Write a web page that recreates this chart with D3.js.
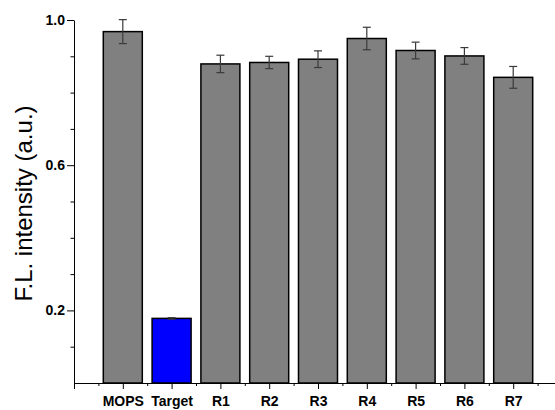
<!DOCTYPE html>
<html>
<head>
<meta charset="utf-8">
<script src="https://cdn.jsdelivr.net/npm/d3@7"></script>
<style>
  body { margin: 0; background: #fff; }
  svg text { font-family: Arial, "Liberation Sans", sans-serif; }
</style>
</head>
<body>
<div id="chart"></div>
<script>
// chart data
const categories = ['MOPS', 'Target', 'R1', 'R2', 'R3', 'R4', 'R5', 'R6', 'R7'];
const values = [0.968, 0.178, 0.879, 0.883, 0.892, 0.949, 0.916, 0.901, 0.842];
const errors = [0.033, 0.002, 0.024, 0.017, 0.023, 0.031, 0.023, 0.023, 0.030];
const barColors = ['#808080', '#0000ff', '#808080', '#808080', '#808080', '#808080', '#808080', '#808080', '#808080'];
const yMajorTicks = [0.2, 0.6, 1.0];
const yMinorTicks = [0.1, 0.3, 0.4, 0.5, 0.7, 0.8, 0.9];

const W = 555, H = 410;
const plotLeft = 74, plotTop = 20, plotBottom = 383;

const svg = d3.select('#chart').append('svg')
  .attr('width', W)
  .attr('height', H);

// x positions: categories sit at 1..9, axis starts at 0
const x = d3.scaleLinear()
  .domain([0, 10])
  .range([plotLeft, plotLeft + 488]);

const y = d3.scaleLinear()
  .domain([0, 1.0])
  .range([plotBottom, plotTop]);

const barW = 39;

// bars
svg.selectAll('rect.bar')
  .data(values)
  .enter()
  .append('rect')
  .attr('class', 'bar')
  .attr('x', (d, i) => x(i + 1) - barW / 2)
  .attr('y', d => y(d))
  .attr('width', barW)
  .attr('height', d => y(0) - y(d))
  .attr('fill', (d, i) => barColors[i])
  .attr('stroke', '#000')
  .attr('stroke-width', 1.5);

// error bars
const err = svg.selectAll('g.err')
  .data(values)
  .enter()
  .append('g')
  .attr('class', 'err')
  .attr('stroke', '#3a3a3a')
  .attr('stroke-width', 1.2);

err.append('line')
  .attr('x1', (d, i) => x(i + 1))
  .attr('x2', (d, i) => x(i + 1))
  .attr('y1', (d, i) => y(d + errors[i]))
  .attr('y2', (d, i) => y(d - errors[i]));

err.append('line')
  .attr('x1', (d, i) => x(i + 1) - 4)
  .attr('x2', (d, i) => x(i + 1) + 4)
  .attr('y1', (d, i) => y(d + errors[i]))
  .attr('y2', (d, i) => y(d + errors[i]));

err.append('line')
  .attr('x1', (d, i) => x(i + 1) - 4)
  .attr('x2', (d, i) => x(i + 1) + 4)
  .attr('y1', (d, i) => y(d - errors[i]))
  .attr('y2', (d, i) => y(d - errors[i]));

// y axis
const yAxis = svg.append('g')
  .attr('transform', `translate(${plotLeft},0)`)
  .call(d3.axisLeft(y).tickValues(yMajorTicks).tickFormat(d3.format('.1f')).tickSize(7).tickSizeOuter(0).tickPadding(2));

yAxis.selectAll('text')
  .attr('font-size', 14)
  .attr('font-weight', 'bold')
  .attr('fill', '#000');

svg.append('g')
  .attr('transform', `translate(${plotLeft},0)`)
  .call(d3.axisLeft(y).tickValues(yMinorTicks).tickFormat('').tickSize(3.5).tickSizeOuter(0))
  .select('.domain').remove();

// x axis
const xAxis = svg.append('g')
  .attr('transform', `translate(0,${plotBottom})`)
  .call(d3.axisBottom(x)
    .tickValues(d3.range(0, categories.length + 1))
    .tickFormat(i => categories[i - 1] || '')
    .tickSize(6).tickSizeOuter(0).tickPadding(7));

xAxis.selectAll('text')
  .attr('font-size', 14)
  .attr('font-weight', 'bold')
  .attr('fill', '#000');

svg.append('g')
  .attr('transform', `translate(0,${plotBottom})`)
  .call(d3.axisBottom(x)
    .tickValues(d3.range(0.5, categories.length + 1, 1))
    .tickFormat('').tickSize(3).tickSizeOuter(0))
  .select('.domain').remove();

svg.selectAll('.domain, .tick line').attr('stroke', '#000');

// y label
svg.append('text')
  .attr('transform', `translate(32,${(plotTop + plotBottom) / 2 + 2}) rotate(-90)`)
  .attr('text-anchor', 'middle')
  .attr('font-size', 24)
  .attr('fill', '#000')
  .text('F.L. intensity (a.u.)');
</script>
</body>
</html>
